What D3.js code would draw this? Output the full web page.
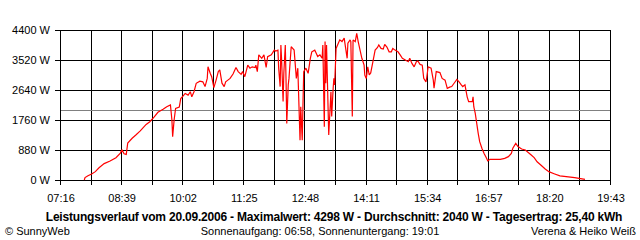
<!DOCTYPE html>
<html>
<head>
<meta charset="utf-8">
<script src="https://cdn.jsdelivr.net/npm/d3@7"></script>
<style>
  html, body { margin: 0; padding: 0; background: #fff; }
  svg { display: block; }
  text { font-family: "Liberation Sans", Arial, sans-serif; fill: #000; }
</style>
</head>
<body>
<svg id="chart" width="640" height="240"></svg>
<script>
// ---- data ----
const xTickLabels = ["07:16","08:39","10:02","11:25","12:48","14:11","15:34","16:57","18:20","19:43"];
const yTickValues = [0, 880, 1760, 2640, 3520, 4400];
const averageWatt = 2040;

const times = [
 "07:49","07:50","07:54","07:59","08:04","08:09","08:16","08:24","08:32","08:38",
 "08:40","08:43","08:46","08:48","08:54","08:59","09:05","09:13","09:18","09:24",
 "09:29","09:36","09:41","09:46","09:48","09:49","09:51","09:53","09:58","10:00",
 "10:03","10:06","10:10","10:13","10:15","10:18","10:21","10:26","10:30","10:33",
 "10:36","10:37","10:40","10:42","10:45","10:48","10:51","10:53","10:56","10:59",
 "11:01","11:04","11:07","11:11","11:15","11:18","11:22","11:24","11:27","11:31",
 "11:34","11:37","11:41","11:42","11:44","11:46","11:50","11:53","11:56","11:58",
 "12:03","12:07","12:09","12:12","12:13","12:15","12:16","12:17","12:19","12:20",
 "12:22","12:23","12:24","12:26","12:27","12:30","12:34","12:37","12:39","12:42",
 "12:43","12:45","12:46","12:47","12:50","12:53","12:56","12:58","13:02","13:06",
 "13:09","13:12","13:13","13:15","13:16","13:17","13:18","13:21","13:24","13:25",
 "13:27","13:28","13:29","13:31","13:34","13:36","13:39","13:42","13:43","13:46",
 "13:47","13:50","13:51","13:53","13:54","13:57","13:59","14:01","14:03","14:06",
 "14:09","14:10","14:12","14:14","14:16","14:18","14:21","14:24","14:27","14:29",
 "14:32","14:35","14:37","14:40","14:43","14:46","14:48","14:51","14:55","14:58",
 "15:01","15:05","15:09","15:11","15:14","15:17","15:20","15:22","15:25","15:28",
 "15:30","15:33","15:34","15:36","15:40","15:43","15:44","15:47","15:52","15:55",
 "15:59","16:02","16:06","16:08","16:12","16:15","16:18","16:21","16:23","16:26",
 "16:29","16:31","16:36","16:37","16:38","16:40","16:42","16:44","16:46","16:49",
 "16:52","16:55","16:57","17:00","17:14","17:20","17:25","17:29","17:31","17:35",
 "17:38","17:41","17:43","17:48","17:56","18:00","18:04","18:09","18:15","18:20",
 "18:27","18:35","18:55","19:09"
];
const watts = [
 0,70,125,175,245,360,480,555,655,790,
 890,770,750,1085,1225,1320,1440,1630,1710,1850,
 1985,2075,2150,2200,1760,1270,1760,2100,2140,2390,
 2460,2540,2490,2590,2440,2590,2835,2900,2880,2740,
 2980,3320,3130,3030,2710,2930,3180,3230,2840,2740,
 2880,2930,2980,3110,3300,3180,3100,3180,3030,3370,
 3280,3320,3300,3370,3180,3670,3570,3670,3300,3620,
 3670,3810,3785,3810,3280,2740,3960,3520,2300,3130,
 3960,2930,1660,2790,2980,3910,3810,2980,3280,1170,
 2150,1170,2200,3180,3280,3130,3570,3760,3810,3620,
 3670,3570,3960,1560,4060,2840,3960,1320,2590,1860,
 2690,2980,2790,3860,4010,4110,4060,4160,4010,3570,
 4010,4110,4060,1860,4110,4060,4298,4060,3860,3570,
 3370,3080,2980,3320,3080,3140,3470,3810,3880,3960,
 3860,3840,3980,3900,3760,3760,3860,3810,3760,3670,
 3570,3520,3470,3570,3420,3320,3470,3490,3390,3370,
 2980,2880,2990,3320,3280,2930,2690,3180,3150,2980,
 2930,2690,2730,2740,2860,2950,2880,2790,2740,2790,
 2440,2300,2300,2440,2150,1955,1660,1370,1125,930,
 780,655,560,605,605,635,685,780,930,1075,
 980,940,910,880,735,655,535,440,325,245,
 185,120,70,20
];

const titleText = "Leistungsverlauf vom 20.09.2006 - Maximalwert: 4298 W - Durchschnitt: 2040 W - Tagesertrag: 25,40 kWh";
const footLeft = "\u00A9 SunnyWeb";
const footMid = "Sonnenaufgang: 06:58, Sonnenuntergang: 19:01";
const footRight = "Verena & Heiko Wei\u00DF";

// ---- helpers ----
const toMin = s => { const [h, m] = s.split(":").map(Number); return h * 60 + m; };
const data = times.map((t, i) => ({ t: toMin(t), w: watts[i] }));

const svg = d3.select("#chart");
const L = 60, R = 610, T = 30, B = 180;

const x = d3.scaleLinear()
  .domain([toMin(xTickLabels[0]), toMin(xTickLabels[xTickLabels.length - 1])])
  .range([L, R]);
const y = d3.scaleLinear().domain([0, 4400]).range([B, T]);

// gridlines: vertical every half label interval
const labelMins = xTickLabels.map(toMin);
const gridMins = [];
for (let i = 0; i < labelMins.length; i++) {
  gridMins.push(labelMins[i]);
  if (i < labelMins.length - 1) gridMins.push((labelMins[i] + labelMins[i + 1]) / 2);
}

const g = svg.append("g").attr("shape-rendering", "crispEdges");
g.selectAll("line.v").data(gridMins).join("line")
  .attr("x1", d => Math.round(x(d)) + 0.5).attr("x2", d => Math.round(x(d)) + 0.5)
  .attr("y1", T).attr("y2", B + 5)
  .attr("stroke", "#000").attr("stroke-width", 1);
g.selectAll("line.h").data(yTickValues).join("line")
  .attr("x1", L - 5).attr("x2", R + 1)
  .attr("y1", d => Math.round(y(d)) + 0.5).attr("y2", d => Math.round(y(d)) + 0.5)
  .attr("stroke", "#000").attr("stroke-width", 1);

// average line
g.append("line")
  .attr("x1", L + 1).attr("x2", R)
  .attr("y1", Math.round(y(averageWatt)) + 0.5).attr("y2", Math.round(y(averageWatt)) + 0.5)
  .attr("stroke", "#808080").attr("stroke-width", 1);

// data line
const line = d3.line().x(d => x(d.t)).y(d => y(d.w)).curve(d3.curveLinear);
svg.append("path").datum(data)
  .attr("d", line)
  .attr("fill", "none").attr("stroke", "#ff0000").attr("stroke-width", 1.2)
  .attr("stroke-linejoin", "miter").attr("stroke-miterlimit", 2);

// y labels
svg.selectAll("text.yl").data(yTickValues).join("text")
  .attr("x", 50).attr("y", d => y(d) + 4)
  .attr("text-anchor", "end").attr("font-size", 11)
  .text(d => d + " W");

// x labels
svg.selectAll("text.xl").data(xTickLabels).join("text")
  .attr("x", d => x(toMin(d)) + 1).attr("y", 202)
  .attr("text-anchor", "middle").attr("font-size", 11)
  .text(d => d);

// title
svg.append("text").attr("x", 334).attr("y", 221)
  .attr("text-anchor", "middle")
  .attr("font-size", 12).attr("font-weight", "bold")
  .attr("letter-spacing", -0.2)
  .text(titleText);

// footer
svg.append("text").attr("x", 5).attr("y", 235).attr("font-size", 11).text(footLeft);
svg.append("text").attr("x", 320).attr("y", 235).attr("font-size", 11)
  .attr("text-anchor", "middle").text(footMid);
svg.append("text").attr("x", 636).attr("y", 235).attr("font-size", 11)
  .attr("text-anchor", "end").text(footRight);
</script>
</body>
</html>
